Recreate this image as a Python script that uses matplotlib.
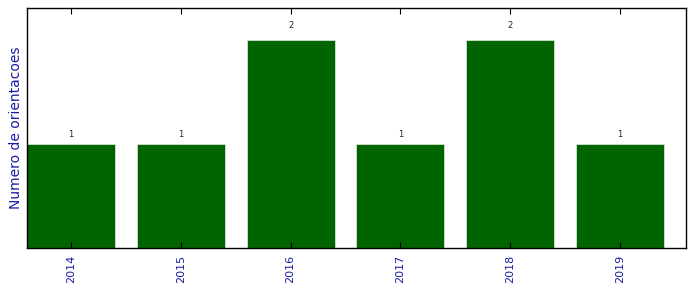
import numpy as np
import matplotlib.pyplot as plt

years = ['2014', '2015', '2016', '2017', '2018', '2019']
counts = [1, 1, 2, 1, 2, 1]

fig = plt.figure(figsize=(6.96, 2.92), dpi=100)
ax = fig.add_axes([0.0388, 0.1507, 0.9468, 0.8219])

x = np.arange(len(years))
bars = ax.bar(x, counts, width=0.8, color='#006400', edgecolor='#cfe3cf', linewidth=0.6)

# label above each bar at 1.05 * height
for rect in bars:
    h = rect.get_height()
    ax.text(rect.get_x() + rect.get_width() / 2., 1.05 * h, '%d' % int(h),
            ha='center', va='bottom', fontsize=6, color='#222222')

ax.set_xlim(-0.4, 5.6)
ax.set_ylim(0, 2.31)
ax.set_xticks(x)
ax.set_xticklabels(years, rotation=90, fontsize=8, color='#1a1aa6')
ax.set_yticks([])
ax.set_ylabel('Numero de orientacoes', fontsize=10, color='#1a1aa6', labelpad=3)
ax.tick_params(axis='x', direction='in', top=True, bottom=True, length=4, width=0.8, pad=5)
for s in ax.spines.values():
    s.set_linewidth(1.0)

plt.savefig('out.png', dpi=100)
